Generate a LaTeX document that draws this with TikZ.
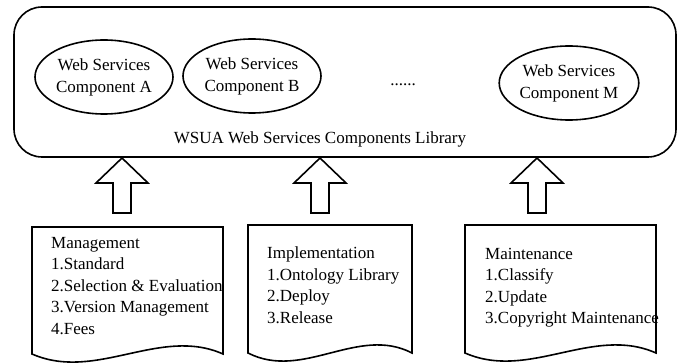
\documentclass[tikz,border=0pt]{standalone}
\usepackage{fontspec}
\setmainfont{Liberation Serif}
\usetikzlibrary{shapes.geometric, positioning}
\tikzstyle{component} = [ellipse, draw, line width=1.6pt, minimum width=138pt, minimum height=74pt, inner sep=0pt, align=center, font=\fontsize{17}{22}\selectfont]
\tikzstyle{doctext} = [anchor=north west, inner sep=0pt, align=left, font=\fontsize{17}{21.5}\selectfont]
\tikzstyle{docframe} = [draw, line width=1.6pt, line join=miter]
\tikzstyle{uparrow} = [draw, line width=1.6pt, fill=white, line join=miter]

\begin{document}
\begin{tikzpicture}[x=1pt, y=-1pt]
            \useasboundingbox (0,0) rectangle (678,363);

            % Components library
            \draw[line width=1.6pt, rounded corners=28pt] (14,7) rectangle (676,157);
            \node[font=\fontsize{17}{20}\selectfont] (libtitle) at (320,139) {WSUA Web Services Components Library};

            % Web services components
            \node[component] (compA) at (104,77) {Web Services\\Component A};
            \node[component] (compB) at (252,76) {Web Services\\Component B};
            \node[font=\fontsize{17}{20}\selectfont] (dots) at (403,85) {......};
            \node[component] (compM) at (569,83) {Web Services\\Component M};

            % Up arrows
            \foreach \c in {122,320,537} {
                    \draw[uparrow] (\c,158) -- (\c+26,183) -- (\c+9,183) -- (\c+9,213)
                        -- (\c-9,213) -- (\c-9,183) -- (\c-26,183) -- cycle;
                }

            % Documents
            \draw[docframe] (32,354) -- (32,227) -- (223,227) -- (223,354)
                .. controls (160,326) and (96,382) .. (32,354) -- cycle;
            \node[doctext] (mgmt) at (51,237) {Management\\1.Standard\\2.Selection \& Evaluation\\3.Version Management\\4.Fees};

            \draw[docframe] (248,353) -- (248,225) -- (412,225) -- (412,353)
                .. controls (358,325) and (303,381) .. (248,353) -- cycle;
            \node[doctext] (impl) at (267,247) {Implementation\\1.Ontology Library\\2.Deploy\\3.Release};

            \draw[docframe] (465,353) -- (465,225) -- (656,225) -- (656,353)
                .. controls (593,325) and (529,381) .. (465,353) -- cycle;
            \node[doctext] (maint) at (485,248) {Maintenance\\1.Classify\\2.Update\\3.Copyright Maintenance};
        \end{tikzpicture}
\end{document}
